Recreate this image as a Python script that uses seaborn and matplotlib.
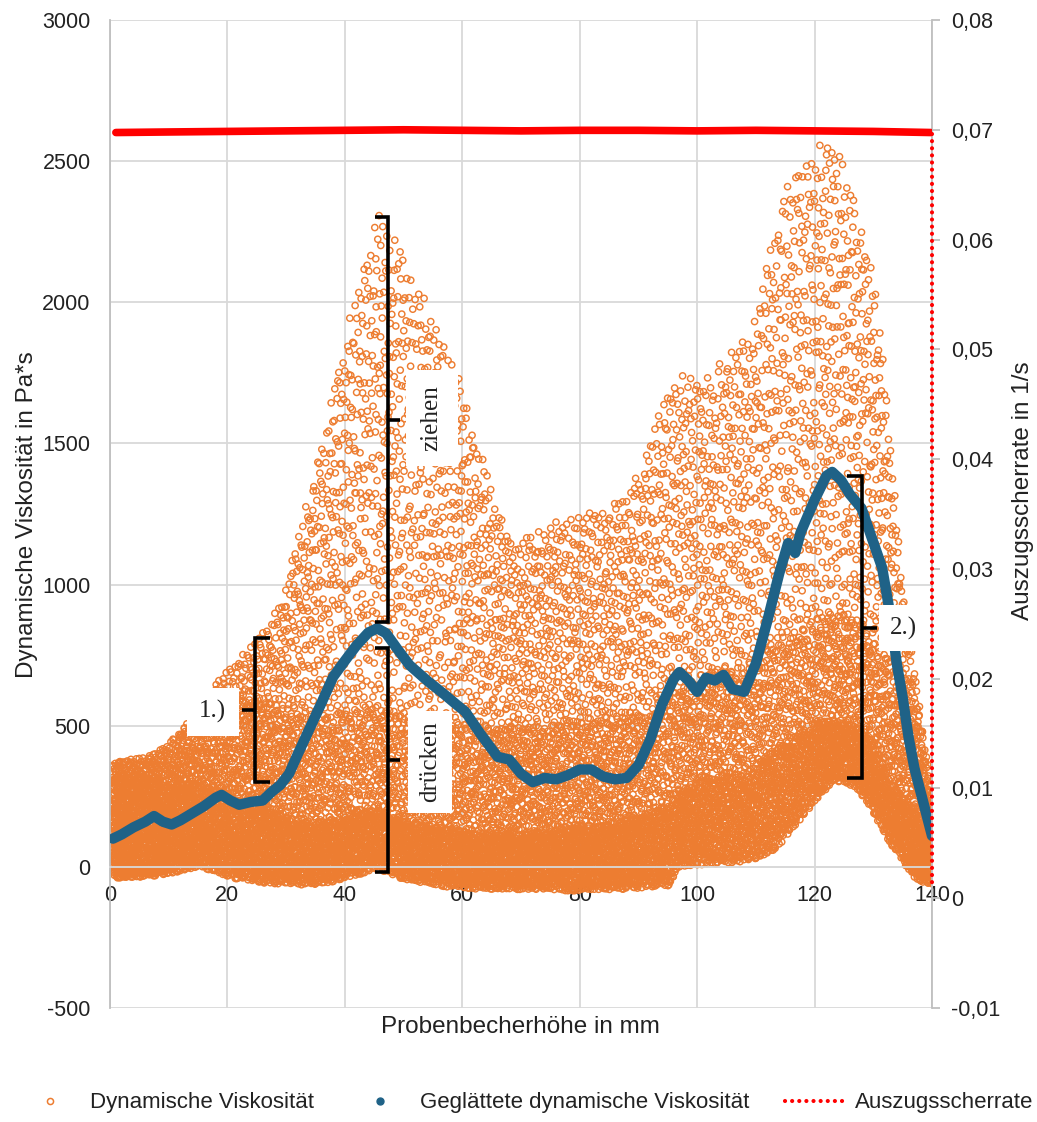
import numpy as np
import pandas as pd
import matplotlib
matplotlib.use("Agg")
import matplotlib.pyplot as plt
from matplotlib.lines import Line2D
import seaborn as sns

ORANGE = "#ED7D31"
BLUE = "#1F6287"
RED = "#FF0000"
GRID = "#D9D9D9"
TXT = "#222222"

# ---------------- data ----------------
# smoothed dynamic viscosity (Pa*s) vs. cup height (mm)
smooth_x = [0.5, 2, 4, 6, 7.5, 9, 10.5, 12, 14, 16,
            18, 19, 20.5, 22, 24, 26, 27.5, 29, 30.5, 32,
            34, 36, 38, 40, 42, 44, 45.5, 47, 49, 51,
            54, 57, 59, 60.5, 63, 66, 68, 70, 72, 74,
            76, 78, 80, 82, 84, 86, 88, 90, 92, 94,
            96, 97, 98.5, 100, 101.5, 103, 104.5, 106, 108, 110,
            112, 114, 115.5, 116.7, 117.6, 120, 122, 123, 124.5, 126,
            128, 130, 131.5, 133, 134, 135, 136, 137, 138, 139,
            140]
smooth_y = [100, 115, 140, 160, 180, 160, 150, 165, 190, 215,
            245, 255, 235, 220, 230, 235, 265, 290, 330, 400,
            490, 580, 673, 730, 785, 830, 845, 828, 770, 715,
            660, 610, 575, 550, 474, 390, 380, 330, 300, 315,
            310, 325, 345, 345, 320, 310, 315, 360, 450, 575,
            665, 690, 660, 620, 670, 660, 680, 630, 620, 720,
            875, 1041, 1147, 1112, 1183, 1300, 1385, 1399, 1370, 1320,
            1270, 1150, 1060, 880, 720, 600, 460, 350, 270, 190,
            110]

# envelope of the raw (unsmoothed) viscosity cloud
env_x = [0, 3, 6, 9, 12, 15, 18, 21, 24, 27,
         30, 33, 36, 39, 42, 45, 46, 48, 51, 54,
         57, 60, 63, 66, 69, 72, 75, 78, 81, 84,
         87, 90, 93, 95, 96, 97, 100, 103, 106, 109,
         112, 115, 118, 121, 123, 125, 127, 129, 131, 133,
         135, 137, 139, 140]
env_upper = [380, 380, 390, 420, 480, 560, 650, 720, 790, 850,
             1000, 1250, 1500, 1780, 2050, 2270, 2320, 2250, 2120, 2000,
             1850, 1700, 1480, 1270, 1140, 1180, 1220, 1230, 1260, 1270,
             1300, 1400, 1580, 1680, 1720, 1750, 1720, 1760, 1850, 1880,
             2150, 2400, 2500, 2560, 2580, 2500, 2350, 2200, 1950, 1500,
             1000, 700, 400, 250]
env_dense = [330, 330, 320, 300, 300, 300, 280, 250, 220, 200,
             180, 160, 160, 170, 190, 200, 200, 180, 160, 150,
             140, 130, 120, 120, 120, 120, 130, 140, 150, 150,
             160, 180, 200, 220, 240, 260, 300, 320, 330, 340,
             400, 450, 480, 510, 520, 520, 500, 460, 400, 300,
             250, 200, 150, 100]
env_lower = [-40, -40, -35, -30, -15, 0, -20, -40, -50, -60,
             -60, -65, -60, -50, -30, -10, -10, -30, -50, -60,
             -70, -75, -80, -80, -80, -80, -80, -85, -85, -80,
             -80, -75, -70, -70, -40, 0, 5, 10, 15, 20,
             40, 100, 180, 250, 300, 300, 280, 230, 150, 80,
             20, -40, -60, -60]

# pull-out shear rate (1/s)
rate_x = [1, 10, 20, 30, 40, 50, 60, 70, 80, 90, 100, 110, 120, 130, 139.8]
rate_y = [0.06975, 0.06980, 0.06985, 0.06990, 0.06995, 0.07000, 0.06995,
          0.06990, 0.06995, 0.06995, 0.06990, 0.06995, 0.06990, 0.06985, 0.06975]
drop_x = [139.95, 139.95]
drop_y = [0.06960, 0.00120]

left_ticks = [-500, 0, 500, 1000, 1500, 2000, 2500, 3000]
right_ticks = [-0.01, 0, 0.01, 0.02, 0.03, 0.04, 0.05, 0.06, 0.07, 0.08]
right_labels = ["-0,01", "0", "0,01", "0,02", "0,03", "0,04", "0,05", "0,06", "0,07", "0,08"]
x_ticks = [0, 20, 40, 60, 80, 100, 120, 140]

assert len(smooth_x) == len(smooth_y)
assert len(env_x) == len(env_upper) == len(env_dense) == len(env_lower)


# ---------------- cloud of raw points inside the read envelope ----------------
def vdc(n, base, offset=1):
    out = np.empty(n)
    for i in range(n):
        f, r, k = 1.0, 0.0, i + offset
        while k > 0:
            f /= base
            r += f * (k % base)
            k //= base
        out[i] = r
    return out


ex = np.array(env_x, float)
up = np.array(env_upper, float)
de = np.array(env_dense, float)
lo = np.array(env_lower, float)

n_d, n_m, n_s = 5200, 4500, 7000
xd = 0.4 + 139.6 * vdc(n_d, 2, 1)
yd = np.interp(xd, ex, lo) + (np.interp(xd, ex, de) - np.interp(xd, ex, lo)) * vdc(n_d, 3, 1)
xm = 0.4 + 139.6 * vdc(n_m, 2, 30001)
mtop = np.minimum(np.interp(xm, ex, de) + 380, np.interp(xm, ex, up))
ym = np.interp(xm, ex, lo) + (mtop - np.interp(xm, ex, lo)) * vdc(n_m, 3, 30001)
xs = 0.4 + 139.6 * vdc(n_s, 3, 70001)
ys = np.interp(xs, ex, lo) + (np.interp(xs, ex, up) - np.interp(xs, ex, lo)) * vdc(n_s, 2, 70001) ** 1.1

raw = pd.DataFrame({"x": np.concatenate([xd, xm, xs]), "y": np.concatenate([yd, ym, ys])})
smooth = pd.DataFrame({"x": smooth_x, "y": smooth_y})
rate = pd.DataFrame({"x": rate_x, "y": rate_y})

# ---------------- figure ----------------
sns.set_theme(style="white")
plt.rcParams["font.family"] = ["Liberation Sans", "DejaVu Sans"]

fig = plt.figure(figsize=(10.37, 11.22), dpi=100)
ax = fig.add_axes([110 / 1037, 1 - 1008 / 1122, 822 / 1037, 988 / 1122])
ax.set_axisbelow(True)

sns.scatterplot(data=raw, x="x", y="y", ax=ax, marker="o", s=20, linewidth=1.05,
                color=ORANGE, legend=False, zorder=2)
coll = ax.collections[-1]
coll.set_facecolor("none")
coll.set_edgecolor(ORANGE)

sns.lineplot(data=smooth, x="x", y="y", ax=ax, color=BLUE, linewidth=7.5,
             sort=True, legend=False, zorder=3, solid_joinstyle="round",
             solid_capstyle="round")

ax.set_xlim(0, 140)
ax.set_ylim(-500, 3000)
ax.set_xticks(x_ticks)
ax.set_xticklabels([str(t) for t in x_ticks])
ax.set_yticks(left_ticks)
ax.set_yticklabels([str(t) for t in left_ticks])
ax.grid(True, color=GRID, linewidth=1.3)
ax.tick_params(axis="x", length=0, pad=13, labelsize=15.5, labelcolor=TXT)
ax.tick_params(axis="y", length=0, pad=14, labelsize=15.5, labelcolor=TXT)
ax.spines["top"].set_visible(False)
ax.spines["right"].set_visible(False)
ax.spines["left"].set_color("#BFBFBF")
ax.spines["left"].set_linewidth(1.3)
ax.spines["bottom"].set_position(("data", 0))
ax.spines["bottom"].set_color(GRID)
ax.spines["bottom"].set_linewidth(1.3)

ax.set_xlabel("Probenbecherhöhe in mm", fontsize=17.5, color=TXT)
ax.xaxis.set_label_coords(0.499, -0.008)
ax.set_ylabel("Dynamische Viskosität in Pa*s", fontsize=17.5, color=TXT)
ax.yaxis.set_label_coords(-0.088, 0.499)

# ---------------- brackets and labels ----------------
bk = dict(color="black", linewidth=2.6, solid_joinstyle="miter", solid_capstyle="butt", zorder=4)
# ziehen
ax.plot([45.1, 47.35, 47.35, 45.1], [2302, 2302, 868, 868], **bk)
ax.plot([47.35, 49.4], [1583, 1583], **bk)
# drücken
ax.plot([45.1, 47.35, 47.35, 45.1], [775, 775, -18, -18], **bk)
ax.plot([47.35, 49.4], [379, 379], **bk)
# 1.)
ax.plot([27.25, 24.7, 24.7, 27.25], [811, 811, 301, 301], **bk)
ax.plot([24.7, 22.5], [556, 556], **bk)
# 2.)
ax.plot([125.5, 128.1, 128.1, 125.5], [1385, 1385, 315, 315], **bk)
ax.plot([128.1, 130.6], [846, 846], **bk)

serif = ["Liberation Serif", "DejaVu Serif"]
ax.text(54.8, 1590, "ziehen", rotation=90, ha="center", va="center", fontsize=18,
        family=serif, color=TXT, zorder=5,
        bbox=dict(facecolor="white", edgecolor="none", pad=11))
ax.text(54.5, 372, "drücken", rotation=90, ha="center", va="center", fontsize=18,
        family=serif, color=TXT, zorder=5,
        bbox=dict(facecolor="white", edgecolor="none", pad=8))
ax.text(17.5, 549, "1.)", ha="center", va="center", fontsize=18,
        family=serif, color=TXT, zorder=5,
        bbox=dict(facecolor="white", edgecolor="none", pad=9))
ax.text(135.1, 846, "2.)", ha="center", va="center", fontsize=18,
        family=serif, color=TXT, zorder=5,
        bbox=dict(facecolor="white", edgecolor="none", pad=8))

# ---------------- secondary axis: shear rate ----------------
ax2 = ax.twinx()
sns.lineplot(data=rate, x="x", y="y", ax=ax2, color=RED, linewidth=5.5,
             legend=False, zorder=3)
ax2.plot(drop_x, drop_y, color=RED, linewidth=3.0, linestyle=(0, (0.01, 1.7)),
         dash_capstyle="round", zorder=3, clip_on=False)
ax2.set_ylim(-0.01, 0.08)
ax2.set_yticks(right_ticks)
ax2.set_yticklabels(right_labels)
ax2.set_xlim(0, 140)
ax2.tick_params(axis="y", length=6, width=1.3, color="#BFBFBF", pad=8,
                labelsize=15.5, labelcolor=TXT)
for s in ["top", "left", "bottom"]:
    ax2.spines[s].set_visible(False)
ax2.spines["right"].set_color("#BFBFBF")
ax2.spines["right"].set_linewidth(1.3)
ax2.set_ylabel("Auszugsscherrate in 1/s", fontsize=17.5, color=TXT)
ax2.yaxis.set_label_coords(1.097, 0.524)
ax2.set_xlabel("")

# ---------------- legend ----------------
handles = [
    Line2D([], [], marker="o", linestyle="none", markerfacecolor="none",
           markeredgecolor=ORANGE, markersize=4.4, markeredgewidth=1.1),
    Line2D([], [], marker="o", linestyle="none", color=BLUE, markersize=5.0),
    Line2D([], [], color=RED, linewidth=3.0, linestyle=(0, (0.01, 1.7)),
           dash_capstyle="round"),
]
labels = ["Dynamische Viskosität", "Geglättete dynamische Viskosität", "Auszugsscherrate"]
fig.legend(handles, labels, loc="center", bbox_to_anchor=(0.508, 0.017), ncol=3,
           frameon=False, fontsize=16, handlelength=2.7, handletextpad=0.45,
           columnspacing=1.62, labelcolor=TXT)

fig.savefig("out.png", dpi=100)
